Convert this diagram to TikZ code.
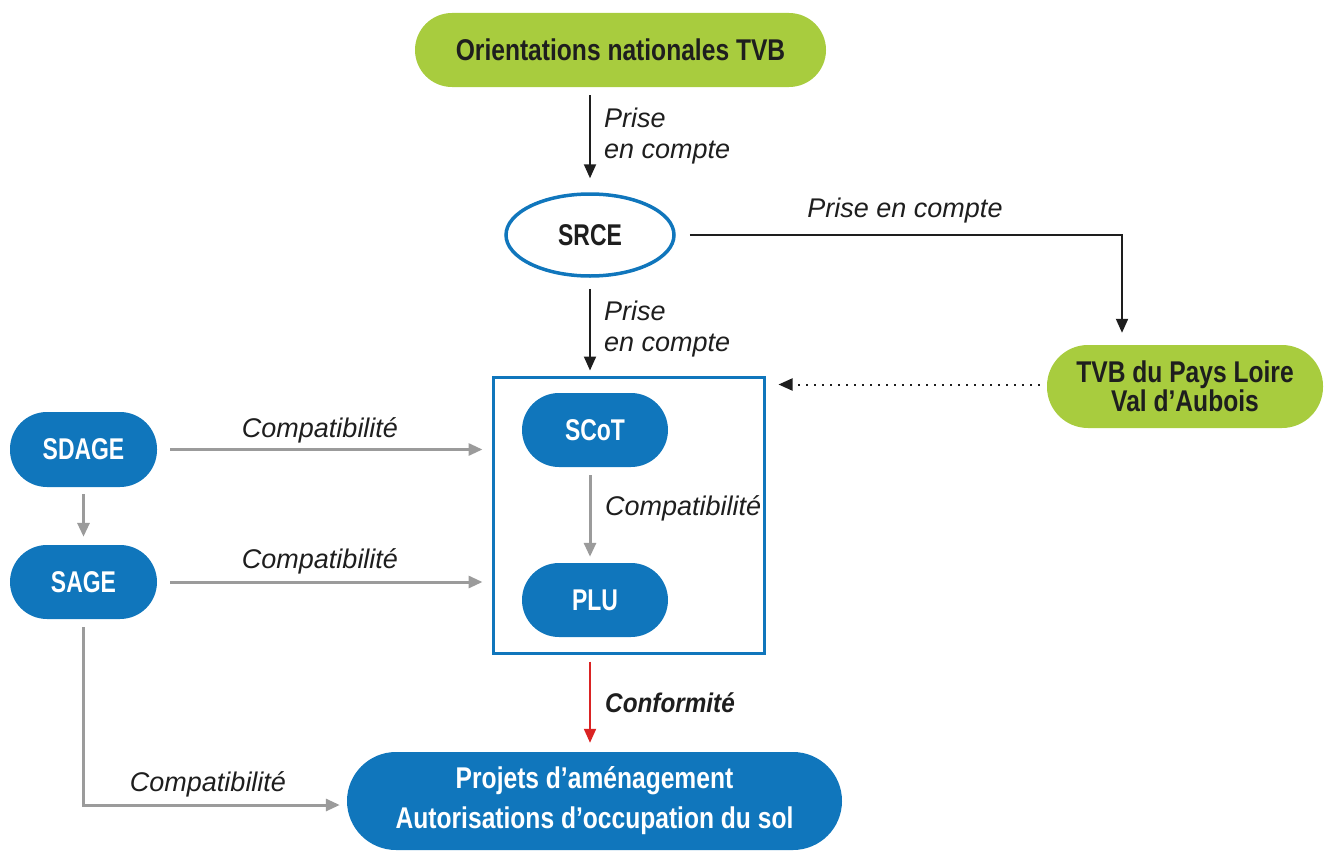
\documentclass[tikz,border=0pt]{standalone}
\usepackage{fontspec}
\setmainfont{Liberation Sans}
\newfontfamily\nf[FakeStretch=0.765]{Liberation Sans}
\newfontfamily\nfl[FakeStretch=0.82]{Liberation Sans}
\newfontfamily\cf[FakeStretch=0.9]{Liberation Sans}
\usetikzlibrary{arrows.meta,shapes.geometric}
\definecolor{tvbgreen}{RGB}{168,204,62}
\definecolor{mblue}{RGB}{16,118,188}
\definecolor{agray}{RGB}{155,155,155}
\definecolor{ared}{RGB}{218,35,35}
\definecolor{txt}{RGB}{30,30,30}
\begin{document}
\begin{tikzpicture}[x=1pt,y=-1pt,
  nodetxt/.style={font=\nf\bfseries\fontsize{30}{32}\selectfont, align=center, inner sep=0pt},
  widetxt/.style={font=\nfl\bfseries\fontsize{30}{#1}\selectfont},
  greenpill/.style={nodetxt, rectangle, fill=tvbgreen, text=txt},
  bluepill/.style={nodetxt, rectangle, fill=mblue, text=white},
  lab/.style={font=\itshape\fontsize{27}{31}\selectfont, text=txt, align=left, inner sep=0pt},
  tip/.style={-{Triangle[length=14pt,width=12pt]}},
  blk/.style={tip, draw=txt, line width=2pt},
  gry/.style={tip, draw=agray, line width=3pt},
]
\useasboundingbox (0,0) rectangle (1324,851);

% nodes
\node[greenpill, widetxt=32, minimum width=411, minimum height=74, rounded corners=37] (orient) at (620.5,50) {Orientations nationales TVB};
\node[nodetxt, ellipse, draw=mblue, line width=3.5pt, text=txt, minimum width=168, minimum height=82] (srce) at (590,235) {SRCE};
\node[greenpill, widetxt=27, minimum width=276, minimum height=83, rounded corners=41] (tvb) at (1185,386.5) {TVB du Pays Loire\\Val d’Aubois};
\node[draw=mblue, line width=3pt, rectangle, minimum width=271, minimum height=276, inner sep=0pt] (box) at (628.5,515) {};
\node[bluepill, minimum width=146, minimum height=74, rounded corners=37] (scot) at (595,430) {SCoT};
\node[bluepill, minimum width=146, minimum height=74, rounded corners=37] (plu) at (595,600) {PLU};
\node[bluepill, minimum width=147, minimum height=75, rounded corners=37] (sdage) at (83.5,449.5) {SDAGE};
\node[bluepill, minimum width=147, minimum height=74, rounded corners=37] (sage) at (83.5,582) {SAGE};
\node[bluepill, widetxt=40, minimum width=495, minimum height=98, rounded corners=49] (proj) at (594.5,801) {Projets d’aménagement\\Autorisations d’occupation du sol};

% connectors
\draw[blk, shorten <=8pt, shorten >=14pt] (orient.south -| srce) -- (srce.north);
\draw[blk, shorten <=11pt, shorten >=5pt] (srce.south) -- (box.north -| srce);
\draw[blk, shorten <=14pt, shorten >=12pt] (srce.east) -| ([xshift=-63pt]tvb.north);
\draw[blk, dash pattern=on 2pt off 6pt, shorten <=7pt, shorten >=13pt] ([yshift=2pt]tvb.west) -- ([yshift=2pt]tvb.west -| box.east);
\draw[gry, shorten <=13pt, shorten >=9pt] (sdage.east) -- (sdage.east -| box.west);
\draw[gry, shorten <=13pt, shorten >=9pt] (sage.east) -- (sage.east -| box.west);
\draw[gry, shorten <=7pt, shorten >=8pt] (sdage.south) -- (sage.north);
\draw[gry, shorten <=8pt, shorten >=6pt] (scot.south -| srce) -- (plu.north -| srce);
\draw[gry, shorten <=8pt, shorten >=7pt] (sage.south) |- ([yshift=-4pt]proj.west);
\draw[tip, draw=ared, line width=2pt, shorten <=7pt, shorten >=9pt] (box.south -| srce) -- (proj.north -| srce);

% labels
\node[lab, anchor=west] (l1) at (604,136) {Prise\\en compte};
\node[lab, anchor=west] (l2) at (604,329) {Prise\\en compte};
\node[lab] (l3) at (905,211) {Prise en compte};
\node[lab] (l4) at (320,430) {Compatibilité};
\node[lab] (l5) at (320,561) {Compatibilité};
\node[lab, anchor=west] (l6) at (605,508) {Compatibilité};
\node[lab] (l7) at (208,784) {Compatibilité};
\node[lab, anchor=west, font=\cf\bfseries\itshape\fontsize{27}{31}\selectfont] (l8) at (605,703) {Conformité};
\end{tikzpicture}
\end{document}
